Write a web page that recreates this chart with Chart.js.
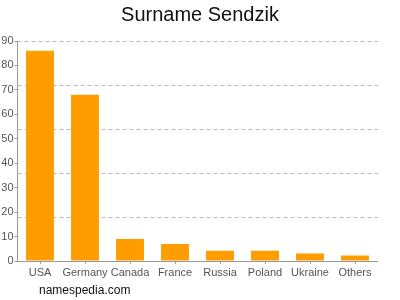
<!DOCTYPE html>
<html>
<head>
<meta charset="utf-8">
<script src="https://cdn.jsdelivr.net/npm/chart.js@4/dist/chart.umd.min.js"></script>
<style>
  body { margin: 0; background: #fff; }
  #wrap { width: 400px; height: 300px; }
</style>
</head>
<body>
<div id="wrap"><canvas id="myChart" width="400" height="300"></canvas></div>
<script>
var countries = ["USA", "Germany", "Canada", "France", "Russia", "Poland", "Ukraine", "Others"];
var counts = [86, 68, 9, 7, 4.2, 4.2, 3.1, 2.2];
var yTicks = [0, 10, 20, 30, 40, 50, 60, 70, 80, 90];

Chart.defaults.font.family = "'Liberation Sans', Arial, sans-serif";

var footer = {
    id: "footer",
    afterDraw: function (chart) {
        var ctx = chart.ctx;
        ctx.save();
        ctx.font = "12px 'Liberation Sans', Arial, sans-serif";
        ctx.fillStyle = "#111";
        ctx.textBaseline = "middle";
        ctx.fillText("namespedia.com", 39, 291);
        ctx.restore();
    }
};

new Chart("myChart", {
    type: "bar",
    data: {
        labels: countries,
        datasets: [{
            data: counts,
            backgroundColor: "#ff9d00",
            barPercentage: 0.62,
            categoryPercentage: 1
        }]
    },
    options: {
        responsive: false,
        animation: false,
        layout: { padding: 0 },
        plugins: {
            legend: { display: false },
            tooltip: { enabled: false },
            title: {
                display: true,
                text: "Surname Sendzik",
                color: "#111",
                font: { size: 20, weight: "normal" },
                padding: { top: 3, bottom: 14 }
            }
        },
        scales: {
            x: {
                grid: { offset: false, drawOnChartArea: false, tickLength: 3, color: "#999" },
                border: { color: "#999" },
                ticks: { color: "#555", font: { size: 11 }, padding: 2, maxRotation: 0, autoSkip: false },
                afterFit: function (scale) { scale.height = 39; }
            },
            y: {
                min: 0,
                max: 90,
                afterBuildTicks: function (scale) {
                    scale.ticks = yTicks.map(function (v) { return { value: v }; });
                },
                grid: { drawOnChartArea: false, tickLength: 3, color: "#999" },
                border: { color: "#999" },
                ticks: { color: "#555", font: { size: 11 }, padding: 1 },
                afterFit: function (scale) { scale.width = 17.5; }
            },
            yGrid: {
                position: "right",
                min: 0,
                max: 90,
                ticks: { display: false, stepSize: 18 },
                grid: { color: "#bbb", drawTicks: false },
                border: { display: false, dash: [4, 3] },
                afterFit: function (scale) { scale.width = 22.5; }
            }
        }
    },
    plugins: [footer]
});
</script>
</body>
</html>
